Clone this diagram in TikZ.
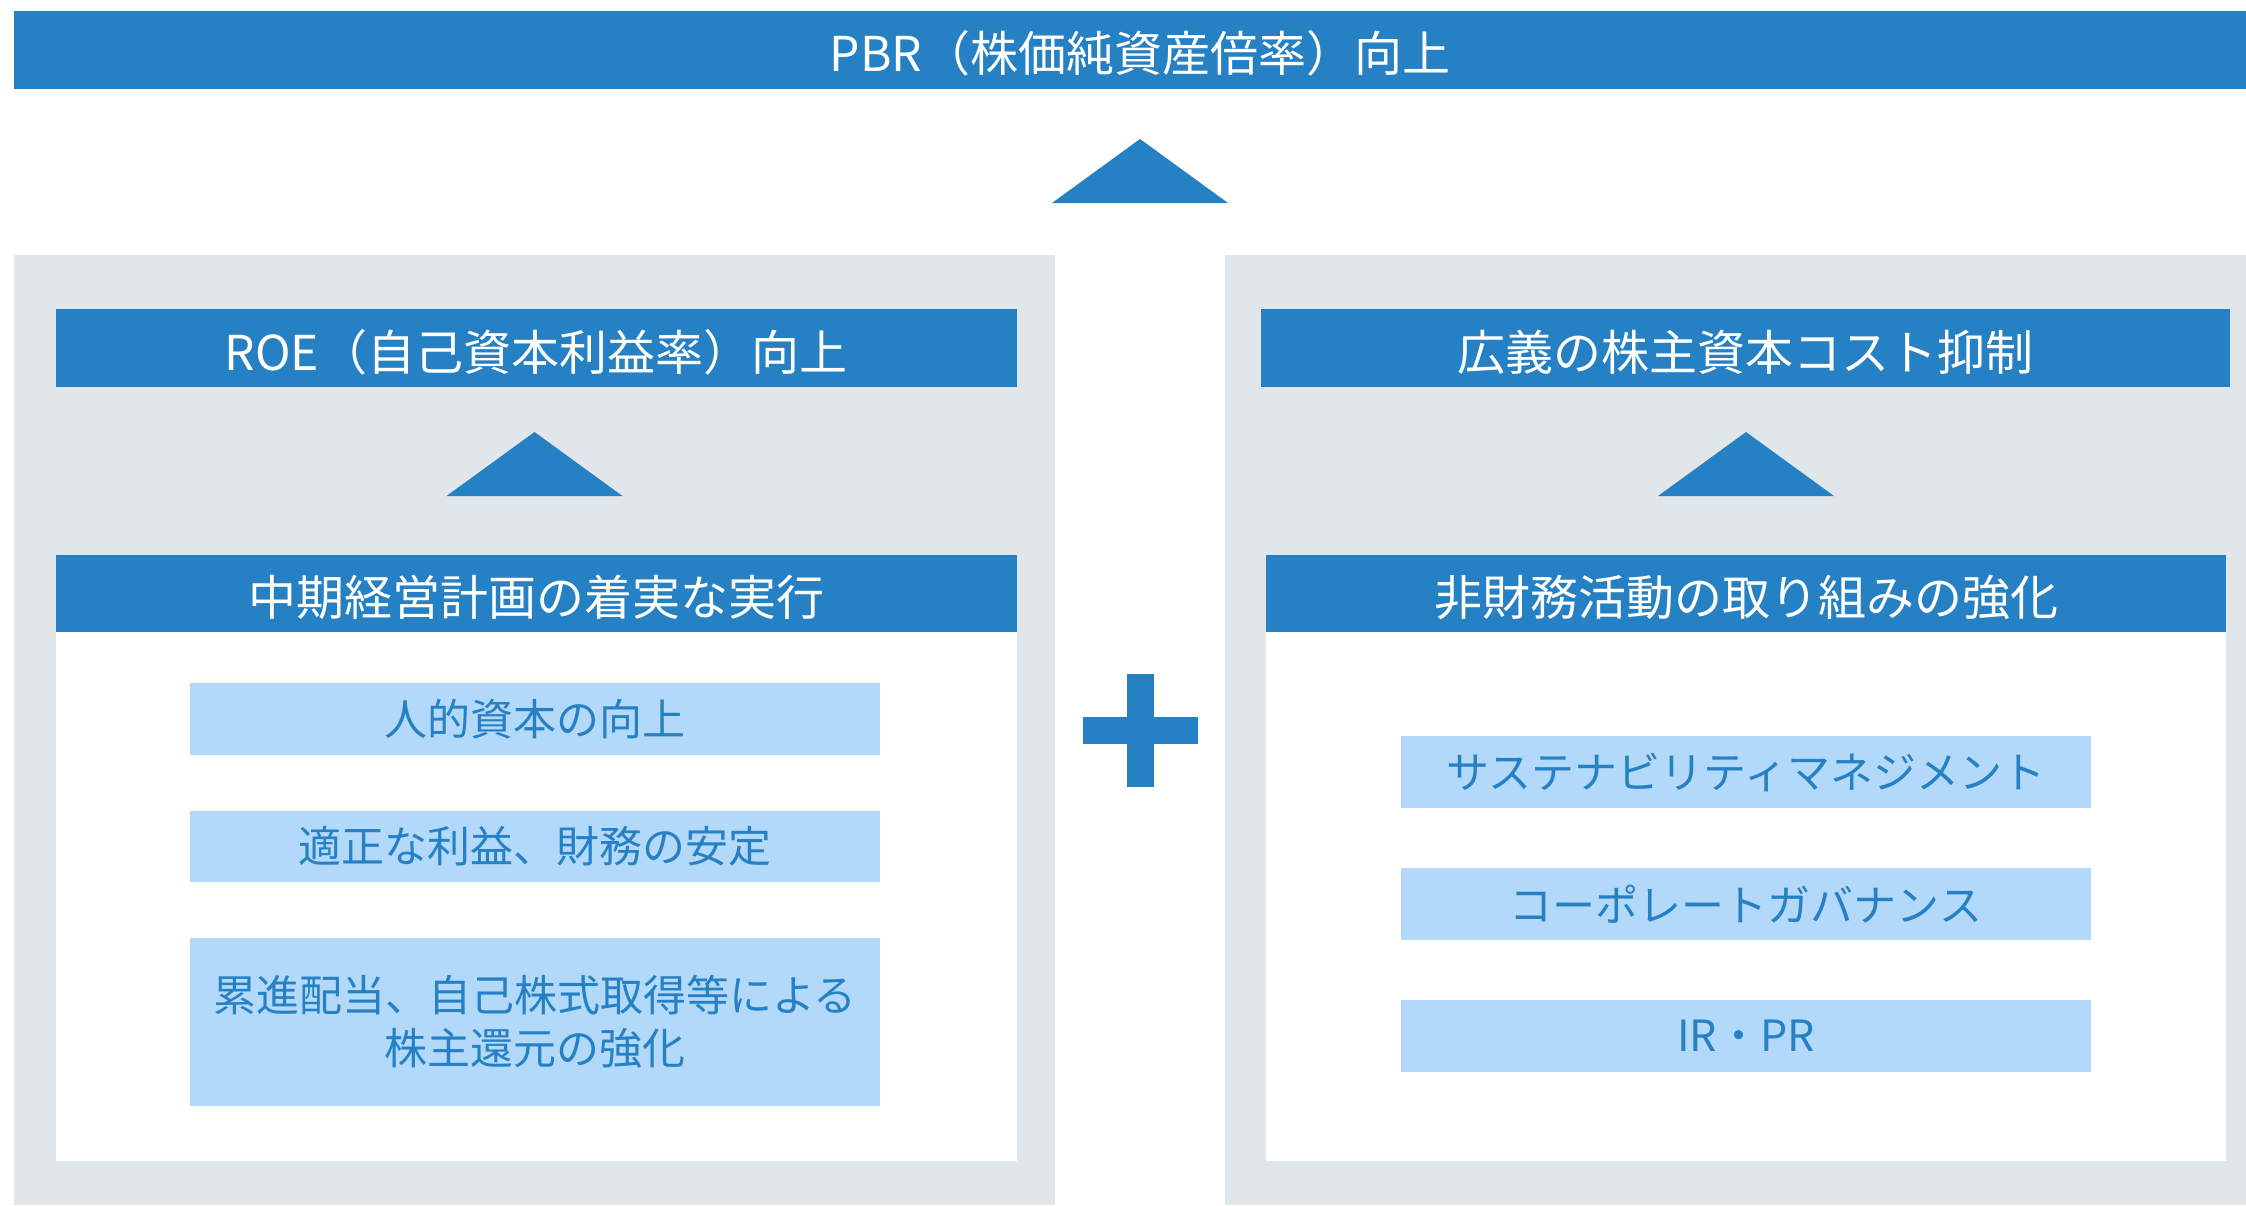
\documentclass[tikz,border=0pt]{standalone}
\usepackage{fontspec}
\setmainfont{Noto Sans CJK JP}
\usepackage{tikz}
\usetikzlibrary{positioning,calc}
\definecolor{mainblue}{HTML}{2680C4}
\definecolor{panelgray}{HTML}{E1E6EA}
\definecolor{itemblue}{HTML}{B2D8FA}

\begin{document}
\begin{tikzpicture}[x=1pt,y=-1pt,
      every node/.style={inner sep=0pt,outer sep=0pt},
      bar/.style={fill=mainblue,text=white,minimum height=77pt,
                  text height=46pt,text depth=2pt,
                  font=\fontsize{48}{56}\selectfont},
      panel/.style={fill=panelgray,anchor=north west,minimum height=950pt},
      sheet/.style={fill=white,anchor=north,minimum width=961pt,minimum height=529pt},
      item/.style={fill=itemblue,text=mainblue,align=center,minimum width=690pt,
                   minimum height=71.5pt,font=\fontsize{43}{53}\selectfont},
      tri/.style={fill=mainblue},
    ]
      \useasboundingbox (0,0) rectangle (2246,1205);
      \node[bar,minimum width=2252pt,minimum height=78pt,text depth=4pt] (pbr) at (1140,50)
           {PBR（株価純資産倍率）向上};
      \node[panel,minimum width=1041pt] (lpanel) at (14,255) {};
      \node[panel,minimum width=1021pt] (rpanel) at (1225,255) {};

      \node[bar,minimum width=961pt,minimum height=78pt] (roe) at (536,348)
           {ROE（自己資本利益率）向上};
      \node[sheet] (lsheet) at (536,632) {};
      \node[bar,minimum width=961pt] (plan) at (536,593.5) {中期経営計画の着実な実行};
      \node[item] (human) at (535,719) {人的資本の向上};
      \node[item,below=56pt of human] (profit) {適正な利益、財務の安定};
      \node[item,below=55.5pt of profit,minimum height=168.5pt] (payout)
           {累進配当、自己株式取得等による\\株主還元の強化};

      \node[bar,minimum width=969pt,minimum height=78pt] (cost) at (1745.5,348)
           {広義の株主資本コスト抑制};
      \node[sheet,minimum width=960pt] (rsheet) at (1746,632) {};
      \node[bar,minimum width=960pt] (nonfin) at (1746,593.5) {非財務活動の取り組みの強化};
      \node[item] (sustain) at (1746,772) {サステナビリティマネジメント};
      \node[item,below=60.5pt of sustain] (govern) {コーポレートガバナンス};
      \node[item,below=60.5pt of govern] (irpr) {IR・PR};

      \foreach \cx/\ty in {1140/139,534.5/432,1746/432}
        \fill[tri] (\cx-88,\ty+64) -- (\cx,\ty) -- (\cx+88,\ty+64) -- cycle;
      \fill[tri] (1083,716.5) rectangle (1197.5,744.2);
      \fill[tri] (1126.6,674) rectangle (1153.8,787.3);
    \end{tikzpicture}
\end{document}
